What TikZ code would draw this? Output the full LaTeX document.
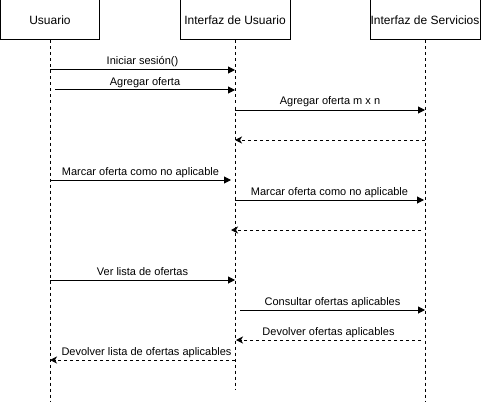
\documentclass[tikz,border=0pt]{standalone}
\usepackage{fontspec}
\setmainfont{Liberation Sans}
\usetikzlibrary{arrows.meta,positioning}

\begin{document}
\begin{tikzpicture}[
  x=1pt, y=-1pt,
  actor/.style={draw, line width=1pt, minimum height=40pt, inner sep=0pt, font=\fontsize{12}{14}\selectfont},
  life/.style={line width=1pt, dash pattern=on 3pt off 3pt},
  msg/.style={-{Triangle[length=7pt,width=7pt]}, line width=1pt},
  ret/.style={-{Stealth[length=7pt,width=7pt,inset=2pt]}, line width=1pt, dash pattern=on 3pt off 3pt},
  lbl/.style={midway, anchor=base, yshift=5pt, inner sep=0pt, font=\fontsize{11}{13}\selectfont}]
\useasboundingbox (0,0) rectangle (481,401);
% participants
\node[actor, minimum width=99pt] (usr) at (50,20) {Usuario};
\node[actor, minimum width=110pt] (ui) at (235,20) {Interfaz de Usuario};
\node[actor, minimum width=110pt] (srv) at (425,20) {Interfaz de Servicios};
\coordinate (usrEnd) at (50,401);
\coordinate (uiEnd) at (235,390);
\coordinate (srvEnd) at (425,401);
\draw[life] (usr.south) -- (usrEnd);
\draw[life] (ui.south) -- (uiEnd);
\draw[life] (srv.south) -- (srvEnd);
% message ends on the lifelines
\coordinate (a1) at (50,70);   \coordinate (b1) at (235,70);
\coordinate (a2) at (55,90);   \coordinate (b2) at (235,90);
\coordinate (a3) at (235,110); \coordinate (b3) at (425,110);
\coordinate (a4) at (425,140); \coordinate (b4) at (235,140);
\coordinate (a5) at (50,180);  \coordinate (b5) at (231,180);
\coordinate (a6) at (235,200); \coordinate (b6) at (424,200);
\coordinate (a7) at (421,230); \coordinate (b7) at (231,230);
\coordinate (a8) at (50,280);  \coordinate (b8) at (235,280);
\coordinate (a9) at (240,310); \coordinate (b9) at (425,310);
\coordinate (a10) at (421,340); \coordinate (b10) at (236,340);
\coordinate (a11) at (235,360); \coordinate (b11) at (50,360);
% messages
\draw[msg] (a1) -- node[lbl]{Iniciar sesión()} (b1);
\draw[msg] (a2) -- node[lbl]{Agregar oferta} (b2);
\draw[msg] (a3) -- node[lbl]{Agregar oferta m x n} (b3);
\draw[ret] (a4) -- (b4);
\draw[msg] (a5) -- node[lbl]{Marcar oferta como no aplicable} (b5);
\draw[msg] (a6) -- node[lbl]{Marcar oferta como no aplicable} (b6);
\draw[ret] (a7) -- (b7);
\draw[msg] (a8) -- node[lbl]{Ver lista de ofertas} (b8);
\draw[msg] (a9) -- node[lbl]{Consultar ofertas aplicables} (b9);
\draw[ret] (a10) -- node[lbl]{Devolver ofertas aplicables} (b10);
\draw[ret] (a11) -- node[lbl, xshift=4pt]{Devolver lista de ofertas aplicables} (b11);
\end{tikzpicture}
\end{document}
